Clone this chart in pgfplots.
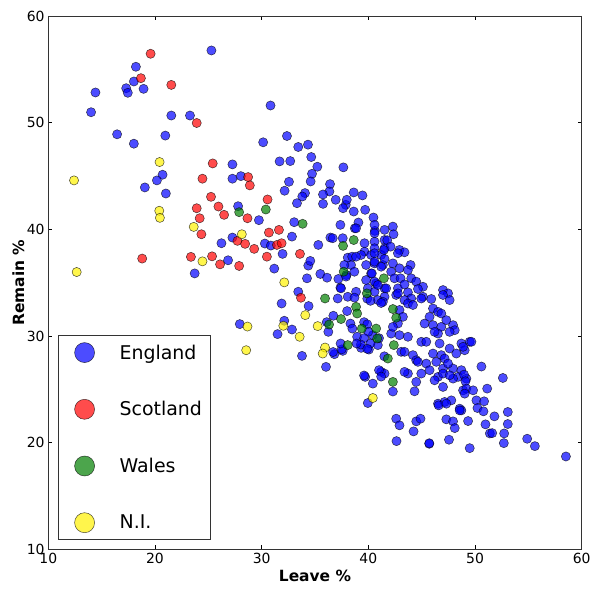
\documentclass[border=0pt]{standalone}
\usepackage{pgfplots}
\pgfplotsset{compat=1.18}
\usepackage{fontspec}
\setmainfont{DejaVu Sans}
\definecolor{mplgreen}{RGB}{0,128,0}
\pgfplotsset{
  country/.style={only marks, mark=*, mark size=4.6bp, draw=black, fill=#1, opacity=0.7, line width=0.5bp,
    legend image code/.code={\path[draw=none, fill=none] (-18bp,-12bp) rectangle (12bp,12bp);
      \filldraw[draw=black, fill=#1, opacity=0.7, line width=0.5bp] (0bp,0bp) circle (10bp);}},
}
\begin{document}
\begin{tikzpicture}
\begin{axis}[
  name=ax,
  scale only axis, width=533.3bp, height=533.3bp,
  xmin=10, xmax=60, ymin=10, ymax=60,
  xtick={10,20,30,40,50,60}, ytick={10,20,30,40,50,60},
  minor tick num=0,
  tick align=inside, major tick length=4bp,
  tick style={black, line width=0.6bp},
  axis line style={black!80, line width=0.8bp},
  /pgf/number format/assume math mode=true,
  ticklabel style={font=\fontsize{14}{16}\selectfont},
  xticklabel style={anchor=north, inner sep=0pt, yshift=-4bp},
  yticklabel style={anchor=east, inner sep=0pt, xshift=-3.5bp},
  xlabel={Leave \%}, ylabel={Remain \%},
  label style={font=\bfseries\fontsize{15.5}{18}\selectfont},
  xlabel style={at={(axis description cs:0.5,-0.06075)}, anchor=base},
  ylabel style={at={(axis description cs:-0.04556,0.5)}, anchor=base},
  legend cell align=left,
  legend style={at={(0.0176,0.0174)}, anchor=south west,
    draw=black!80, line width=0.8bp, fill=white,
    inner xsep=8.5bp, inner ysep=5bp,
    row sep=32.7bp, column sep=23bp,
    nodes={inner sep=0pt},
    font=\fontsize{19}{22}\selectfont},
]
\addplot[country=blue] coordinates {
(25.29,56.77) (18.21,55.24) (18.02,53.86) (14.42,52.83) (17.30,53.23) (17.45,52.80) (18.93,53.17) (14.01,50.98) (21.53,50.67) (23.28,50.67) (16.45,48.91) (18.02,48.03) (20.97,48.79) (27.26,46.09) (20.71,45.12) (20.18,44.59) (19.05,43.93) (21.02,43.36) (27.26,44.75) (28.05,44.99)
(27.79,42.17) (27.26,39.23) (26.23,38.70) (26.85,37.10) (23.72,35.87) (27.95,31.12)
(30.83,51.61) (30.14,48.16) (32.37,48.75) (33.43,47.72) (34.34,47.94) (31.68,46.37) (32.68,46.40) (34.65,46.78) (35.22,45.87) (37.66,45.81) (34.72,45.21) (34.59,44.49) (32.56,44.46) (32.15,43.62) (36.41,44.24) (36.35,43.55) (35.75,43.27) (34.06,43.40) (33.81,43.08) (33.31,42.45) (35.75,42.39) (36.94,42.77) (37.88,42.30) (37.98,42.77) (37.63,41.98) (38.63,43.46) (39.45,43.18) (39.70,41.83) (38.63,41.67) (40.48,41.11) (39.07,40.64) (38.73,40.10) (37.38,40.42) (33.05,40.67) (40.61,39.86) (29.74,40.86)
(30.30,38.67) (30.86,38.48) (31.96,37.70) (32.84,39.32) (35.31,38.54) (36.44,39.23) (37.60,39.17) (31.18,36.32) (34.37,36.60) (34.56,37.04) (34.25,35.41) (35.50,35.82) (36.13,35.47) (37.19,35.35) (37.38,34.53) (37.94,35.72) (38.38,36.66) (38.07,37.35) (38.48,37.44) (33.43,34.15) (34.40,32.81) (31.87,33.05) (32.12,31.43) (32.84,30.61) (31.49,30.18) (36.25,30.39) (36.72,31.90) (38.01,32.34) (38.32,31.17) (38.95,29.93) (37.60,28.61) (36.82,28.30) (33.78,28.14) (36.03,27.11) (39.70,26.17) (39.32,28.89) (40.05,28.73)
(38.85,40.10) (40.58,40.42) (41.52,39.95) (42.30,40.26) (36.66,39.17) (39.64,38.70) (40.58,38.85) (41.52,39.00) (39.64,37.91) (40.58,38.23) (41.52,38.23) (41.20,37.60) (40.26,37.60) (39.32,37.60) (38.85,37.44) (37.75,36.66) (38.69,36.03) (40.58,36.81) (41.36,36.66) (39.79,36.66) (40.26,35.87) (37.91,35.57) (37.44,34.47) (39.79,35.25) (40.73,34.94) (39.95,34.47) (40.58,34.15) (41.52,34.47) (38.85,34.15) (38.07,33.68) (37.13,33.52)
(42.36,39.54) (40.58,39.64) (41.77,38.98) (42.08,38.38) (42.92,38.07) (43.39,37.85) (42.77,37.76) (41.46,38.07) (40.58,37.76) (41.52,37.23) (40.58,36.97) (42.30,36.81) (43.96,36.66) (42.92,36.35) (43.71,36.19) (41.20,36.50) (42.14,36.03) (40.33,35.87) (42.45,35.41) (43.02,35.41) (44.02,35.41) (44.49,35.10) (40.58,35.10) (40.89,34.78) (41.67,34.47) (45.12,34.62) (42.77,34.47) (43.39,34.84) (44.65,34.41) (47.00,34.31) (47.47,34.00) (47.00,33.85) (43.71,34.09) (44.02,33.52) (42.61,33.85) (41.52,33.68) (45.90,33.47) (45.12,33.68) (43.39,33.37) (40.89,33.37)
(42.77,34.00) (44.96,33.52) (47.62,33.37) (41.36,33.21) (42.92,32.44) (43.71,33.05) (44.18,32.91) (43.24,31.80) (42.77,31.17) (46.06,32.58) (46.53,32.27) (46.84,32.11) (45.74,31.80) (45.27,31.17) (46.06,31.02) (46.84,30.86) (47.94,31.02) (47.31,31.49) (48.10,30.55) (47.62,30.39) (40.42,30.08) (40.89,29.15) (42.14,30.23) (42.92,30.08) (43.71,29.93) (42.30,30.86) (44.96,29.46) (45.43,29.46) (46.53,30.23) (46.68,29.30) (46.21,30.39) (47.62,28.83) (48.72,29.30) (49.03,28.67) (49.50,29.46) (48.25,28.36) (43.08,28.52) (44.18,28.21) (43.39,28.52) (46.06,28.36) (46.84,28.21) (47.15,27.89) (46.37,27.58) (47.00,26.95) (47.94,26.95) (47.47,27.42) (44.49,27.73) (45.43,27.42) (45.74,26.80) (44.96,26.48) (44.65,27.58) (43.71,26.48) (43.39,26.64) (41.20,26.64) (41.52,26.48) (48.72,26.80) (48.41,26.17) (49.19,26.01) (48.88,24.91) (47.94,26.01) (46.53,26.17) (47.00,26.48) (47.62,26.32) (40.42,25.54) (44.49,25.70) (44.33,24.82) (46.21,25.85) (47.00,25.23) (46.53,23.66) (47.15,23.82) (47.78,23.97) (48.56,23.19)
(49.66,29.46) (48.88,28.99) (50.60,27.14) (52.61,26.07) (48.97,26.38) (49.10,25.76) (49.19,25.07) (49.03,24.60) (49.82,24.91) (51.14,25.07) (50.13,23.97) (50.85,23.88) (50.23,23.25) (50.79,22.94) (48.72,23.03) (49.35,22.03) (51.82,22.47) (53.07,22.88) (50.98,21.72) (53.07,21.75) (51.39,20.87) (51.61,20.90) (52.73,20.87) (52.70,19.96) (54.89,20.37) (55.61,19.68) (58.52,18.71) (49.50,19.49)
(39.95,23.72) (42.30,24.80) (42.61,22.25) (42.92,21.63) (44.49,22.00) (44.89,22.25) (44.24,21.06) (42.64,20.15) (45.71,19.90) (45.71,19.95) (46.59,23.50) (47.31,23.66) (48.56,23.03) (47.31,22.19) (47.94,22.00) (48.10,21.37) (47.56,20.28)
(38.70,33.60) (39.90,33.50) (40.20,33.30) (41.20,33.10) (36.10,31.30) (38.50,30.70) (39.60,31.30) (39.90,31.10) (40.00,30.40) (39.60,29.80) (40.20,29.30) (41.00,29.80) (39.30,29.20) (39.90,28.80) (38.90,29.30) (37.50,28.75) (36.70,28.50) (37.40,29.30) (41.50,28.10) (39.60,26.30) (41.00,26.80) (41.20,26.20)
};
\addlegendentry{England}
\addplot[country=red] coordinates {
(19.59,56.46) (18.68,54.17) (21.53,53.54) (23.91,49.97) (25.41,46.18) (24.45,44.75) (28.73,44.90) (28.89,44.12) (25.25,43.05)
(23.91,41.98) (24.19,41.04) (25.95,42.14) (26.48,41.36) (28.67,41.04) (24.35,39.54) (27.73,38.92) (28.45,38.64) (18.80,37.26) (23.37,37.42) (25.35,37.47) (26.10,36.72) (27.89,36.57)
(30.55,42.80) (30.68,39.70) (31.62,39.95) (29.30,38.17) (31.43,38.54) (31.87,38.70) (30.49,37.44) (33.59,37.70) (33.68,33.59)
};
\addlegendentry{Scotland}
\addplot[country=mplgreen] coordinates {
(27.89,41.61) (30.39,41.86) (33.84,40.52) (37.63,38.45) (38.63,39.00) (37.69,36.03) (35.94,33.52) (36.32,31.08) (37.44,31.59) (38.85,32.74) (38.95,32.11) (39.39,30.70) (40.73,30.70) (40.83,29.77) (38.07,29.15) (41.46,35.41) (39.86,34.00) (42.30,32.53) (42.61,31.71) (42.39,29.15) (41.83,27.89) (42.30,25.70)
};
\addlegendentry{Wales}
\addplot[country=yellow] coordinates {
(20.43,46.31) (12.41,44.59) (20.40,41.74) (20.46,41.08) (23.63,40.23) (28.14,39.54) (12.66,36.00) (24.45,37.00) (28.67,30.89) (28.55,28.67) (32.12,35.03) (34.09,31.96) (32.03,30.96) (33.56,29.93) (35.25,30.93) (35.94,28.92) (35.72,28.36) (40.42,24.19)
};
\addlegendentry{N.I.}
\end{axis}
\pgfresetboundingbox
\path[use as bounding box] ([xshift=-48.3bp,yshift=-44.7bp]ax.south west) rectangle ([xshift=18.3bp,yshift=16bp]ax.north east);
\end{tikzpicture}
\end{document}
